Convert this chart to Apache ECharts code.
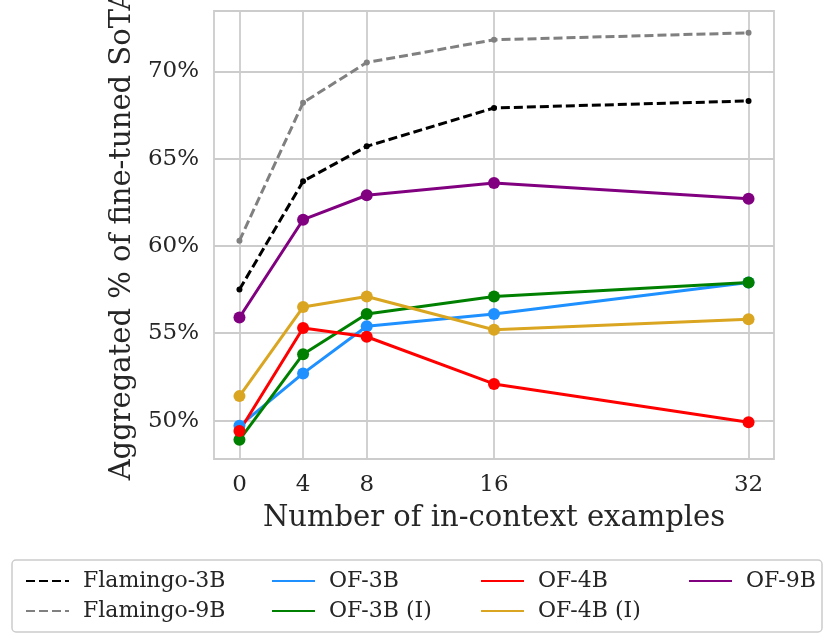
<!DOCTYPE html>
<html>
<head>
<meta charset="utf-8">
<script src="https://cdn.jsdelivr.net/npm/echarts@6/dist/echarts.min.js"></script>
<style>
    html, body { margin: 0; padding: 0; background: #fff; }
    .js-chart { width: 831px; height: 644px; }
</style>
</head>
<body>
<div class="js-chart"></div>
<script>
// number of in-context examples (x positions)
var shots = [0, 4, 8, 16, 32];
var yTicks = [50, 55, 60, 65, 70];

// aggregated % of fine-tuned SoTA
var flamingo3B = [57.5, 63.7, 65.7, 67.9, 68.3];
var flamingo9B = [60.3, 68.2, 70.5, 71.8, 72.2];
var of3B = [49.7, 52.7, 55.4, 56.1, 57.9];
var of3BI = [48.9, 53.8, 56.1, 57.1, 57.9];
var of4B = [49.4, 55.3, 54.8, 52.1, 49.9];
var of4BI = [51.4, 56.5, 57.1, 55.2, 55.8];
var of9B = [55.9, 61.5, 62.9, 63.6, 62.7];

var seriesNames = ['Flamingo-3B', 'Flamingo-9B', 'OF-3B', 'OF-3B (I)', 'OF-4B', 'OF-4B (I)', 'OF-9B'];
var seriesValues = [flamingo3B, flamingo9B, of3B, of3BI, of4B, of4BI, of9B];
var seriesColors = ['#000000', '#808080', '#1e90ff', '#008000', '#ff0000', '#daa520', '#800080'];
var dashed = [true, true, false, false, false, false, false];

var font = 'DejaVu Serif';
var textColor = '#262626';
var gridColor = '#cccccc';

var chart = echarts.init(document.querySelector('.js-chart'), null, {renderer: 'canvas'});

var series = seriesNames.map(function (name, i) {
    return {
        name: name,
        type: 'line',
        data: shots.map(function (x, j) { return [x, seriesValues[i][j]]; }),
        symbol: 'circle',
        symbolSize: dashed[i] ? 6 : 12,
        showSymbol: true,
        animation: false,
        itemStyle: {color: seriesColors[i]},
        lineStyle: {
            color: seriesColors[i],
            width: 3,
            type: dashed[i] ? [9, 4] : 'solid'
        }
    };
});

function legendColumn(names, left) {
    return {
        orient: 'vertical',
        left: left,
        top: 565,
        itemWidth: 43,
        itemHeight: 14,
        itemGap: 8,
        data: names,
        itemStyle: {opacity: 0},
        textStyle: {
            fontFamily: font,
            fontSize: 22,
            color: textColor,
            padding: [0, 0, 0, 9]
        }
    };
}

var option = {
    backgroundColor: '#fff',
    animation: false,
    grid: {
        left: 214,
        right: 57,
        top: 11,
        bottom: 185,
        containLabel: false,
        outerBoundsMode: 'none',
        show: true,
        borderColor: gridColor,
        borderWidth: 1.8
    },
    xAxis: {
        type: 'value',
        min: -1.6,
        max: 33.6,
        name: 'Number of in-context examples',
        nameLocation: 'middle',
        nameGap: 45,
        nameTextStyle: {fontFamily: font, fontSize: 29, color: textColor},
        axisLine: {show: false},
        axisTick: {show: false, customValues: shots},
        axisLabel: {
            customValues: shots,
            fontFamily: font,
            fontSize: 23,
            color: textColor,
            margin: 15
        },
        splitLine: {show: true, lineStyle: {color: gridColor, width: 1.8}}
    },
    yAxis: {
        type: 'value',
        min: 47.8,
        max: 73.45,
        name: 'Aggregated % of fine-tuned SoTA',
        nameLocation: 'middle',
        nameRotate: 90,
        nameGap: 72,
        nameTextStyle: {fontFamily: font, fontSize: 29, color: textColor},
        axisLine: {show: false},
        axisTick: {show: false, customValues: yTicks},
        axisLabel: {
            customValues: yTicks,
            formatter: '{value}%',
            fontFamily: font,
            fontSize: 23,
            color: textColor,
            margin: 15
        },
        splitLine: {show: true, lineStyle: {color: gridColor, width: 1.8}}
    },
    legend: [
        legendColumn(['Flamingo-3B', 'Flamingo-9B'], 20),
        legendColumn(['OF-3B', 'OF-3B (I)'], 266),
        legendColumn(['OF-4B', 'OF-4B (I)'], 475),
        legendColumn(['OF-9B'], 683)
    ],
    graphic: [{
        type: 'rect',
        z: -1,
        shape: {x: 12, y: 560, width: 810, height: 72, r: 4},
        style: {fill: '#fff', stroke: gridColor, lineWidth: 1.5}
    }],
    series: series
};

chart.setOption(option);
</script>
</body>
</html>
